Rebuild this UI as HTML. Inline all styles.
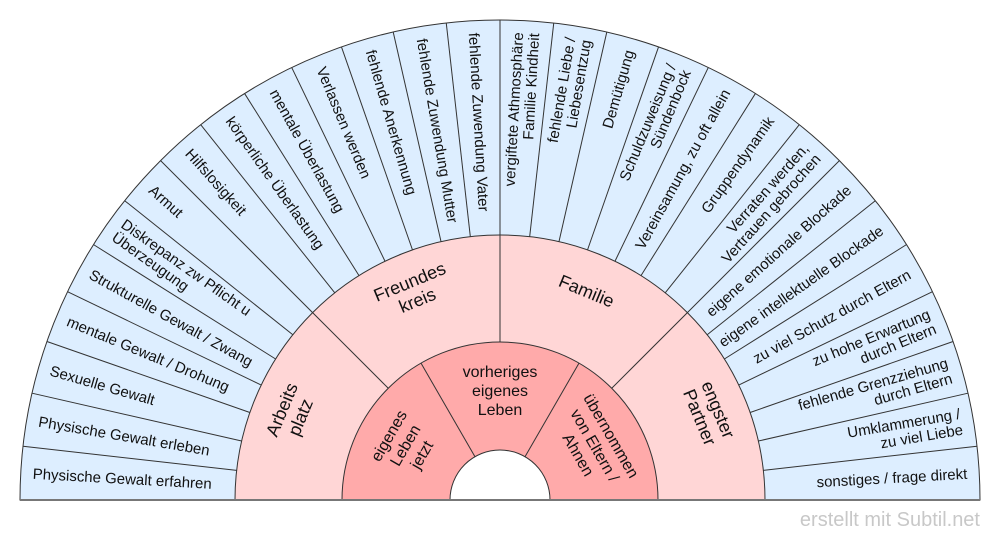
<!DOCTYPE html>
<html><head><meta charset="utf-8"><style>
html,body{margin:0;padding:0;background:#fff;}
svg{display:block;font-family:"Liberation Sans",Arial,sans-serif;}
</style></head><body>
<svg width="1000" height="540" viewBox="0 0 1000 540" xmlns="http://www.w3.org/2000/svg">
<g stroke="#333" stroke-width="1">
<path d="M20 500 A480 480 0 0 1 980 500 Z" fill="#ddeeff"/>
<g>
<line x1="20" y1="500" x2="235" y2="500" transform="rotate(6.42857 500 500)"/>
<line x1="20" y1="500" x2="235" y2="500" transform="rotate(12.85714 500 500)"/>
<line x1="20" y1="500" x2="235" y2="500" transform="rotate(19.28571 500 500)"/>
<line x1="20" y1="500" x2="235" y2="500" transform="rotate(25.71429 500 500)"/>
<line x1="20" y1="500" x2="235" y2="500" transform="rotate(32.14286 500 500)"/>
<line x1="20" y1="500" x2="235" y2="500" transform="rotate(38.57143 500 500)"/>
<line x1="20" y1="500" x2="235" y2="500" transform="rotate(45 500 500)"/>
<line x1="20" y1="500" x2="235" y2="500" transform="rotate(51.42857 500 500)"/>
<line x1="20" y1="500" x2="235" y2="500" transform="rotate(57.85714 500 500)"/>
<line x1="20" y1="500" x2="235" y2="500" transform="rotate(64.28571 500 500)"/>
<line x1="20" y1="500" x2="235" y2="500" transform="rotate(70.71429 500 500)"/>
<line x1="20" y1="500" x2="235" y2="500" transform="rotate(77.14286 500 500)"/>
<line x1="20" y1="500" x2="235" y2="500" transform="rotate(83.57143 500 500)"/>
<line x1="20" y1="500" x2="235" y2="500" transform="rotate(90 500 500)"/>
<line x1="20" y1="500" x2="235" y2="500" transform="rotate(96.42857 500 500)"/>
<line x1="20" y1="500" x2="235" y2="500" transform="rotate(102.85714 500 500)"/>
<line x1="20" y1="500" x2="235" y2="500" transform="rotate(109.28571 500 500)"/>
<line x1="20" y1="500" x2="235" y2="500" transform="rotate(115.71429 500 500)"/>
<line x1="20" y1="500" x2="235" y2="500" transform="rotate(122.14286 500 500)"/>
<line x1="20" y1="500" x2="235" y2="500" transform="rotate(128.57143 500 500)"/>
<line x1="20" y1="500" x2="235" y2="500" transform="rotate(135 500 500)"/>
<line x1="20" y1="500" x2="235" y2="500" transform="rotate(141.42857 500 500)"/>
<line x1="20" y1="500" x2="235" y2="500" transform="rotate(147.85714 500 500)"/>
<line x1="20" y1="500" x2="235" y2="500" transform="rotate(154.28571 500 500)"/>
<line x1="20" y1="500" x2="235" y2="500" transform="rotate(160.71429 500 500)"/>
<line x1="20" y1="500" x2="235" y2="500" transform="rotate(167.14286 500 500)"/>
<line x1="20" y1="500" x2="235" y2="500" transform="rotate(173.57143 500 500)"/>
</g>
<path d="M235 500 A265 265 0 0 1 765 500 Z" fill="#ffd6d6"/>
<line x1="235" y1="500" x2="342" y2="500" transform="rotate(45 500 500)"/>
<line x1="235" y1="500" x2="342" y2="500" transform="rotate(90 500 500)"/>
<line x1="235" y1="500" x2="342" y2="500" transform="rotate(135 500 500)"/>
<path d="M342 500 A158 158 0 0 1 658 500 Z" fill="#ffaaaa"/>
<line x1="342" y1="500" x2="450" y2="500" transform="rotate(60 500 500)"/>
<line x1="342" y1="500" x2="450" y2="500" transform="rotate(120 500 500)"/>
<path d="M450 500 A50 50 0 0 1 550 500 Z" fill="#fff"/>
</g>
<line x1="20" y1="500" x2="980" y2="500" stroke="#777" stroke-width="2"/>

<g font-size="15" fill="#111" text-anchor="start">
<text x="32" y="505" transform="rotate(3.214 500 500)">Physische Gewalt erfahren</text>
<text x="32" y="505" transform="rotate(9.643 500 500)">Physische Gewalt erleben</text>
<text x="32" y="505" transform="rotate(16.071 500 500)">Sexuelle Gewalt</text>
<text x="32" y="505" transform="rotate(22.5 500 500)">mentale Gewalt / Drohung</text>
<text x="32" y="505" transform="rotate(28.929 500 500)">Strukturelle Gewalt / Zwang</text>
<text x="32" y="497" transform="rotate(35.357 500 500)">Diskrepanz zw Pflicht u<tspan x="32" dy="16">Überzeugung</tspan></text>
<text x="32" y="505" transform="rotate(41.786 500 500)">Armut</text>
<text x="32" y="505" transform="rotate(48.214 500 500)">Hilfslosigkeit</text>
<text x="32" y="505" transform="rotate(54.643 500 500)">körperliche Überlastung</text>
<text x="32" y="505" transform="rotate(61.071 500 500)">mentale Überlastung</text>
<text x="32" y="505" transform="rotate(67.5 500 500)">Verlassen werden</text>
<text x="32" y="505" transform="rotate(73.929 500 500)">fehlende Anerkennung</text>
<text x="32" y="505" transform="rotate(80.357 500 500)">fehlende Zuwendung Mutter</text>
<text x="32" y="505" transform="rotate(86.786 500 500)">fehlende Zuwendung Vater</text>
</g>
<g font-size="15" fill="#111" text-anchor="end">
<text x="968" y="505" transform="rotate(-3.214 500 500)">sonstiges / frage direkt</text>
<text x="968" y="497" transform="rotate(-9.643 500 500)">Umklammerung /<tspan x="968" dy="16">zu viel Liebe</tspan></text>
<text x="968" y="497" transform="rotate(-16.071 500 500)">fehlende Grenzziehung<tspan x="968" dy="16">durch Eltern</tspan></text>
<text x="968" y="497" transform="rotate(-22.5 500 500)">zu hohe Erwartung<tspan x="968" dy="16">durch Eltern</tspan></text>
<text x="968" y="505" transform="rotate(-28.929 500 500)">zu viel Schutz durch Eltern</text>
<text x="968" y="505" transform="rotate(-35.357 500 500)">eigene intellektuelle Blockade</text>
<text x="968" y="505" transform="rotate(-41.786 500 500)">eigene emotionale Blockade</text>
<text x="968" y="497" transform="rotate(-48.214 500 500)">Verraten werden,<tspan x="968" dy="16">Vertrauen gebrochen</tspan></text>
<text x="968" y="505" transform="rotate(-54.643 500 500)">Gruppendynamik</text>
<text x="968" y="505" transform="rotate(-61.071 500 500)">Vereinsamung, zu oft allein</text>
<text x="968" y="497" transform="rotate(-67.5 500 500)">Schuldzuweisung /<tspan x="968" dy="16">Sündenbock</tspan></text>
<text x="968" y="505" transform="rotate(-73.929 500 500)">Demütigung</text>
<text x="968" y="497" transform="rotate(-80.357 500 500)">fehlende Liebe /<tspan x="968" dy="16">Liebesentzug</tspan></text>
<text x="968" y="497" transform="rotate(-86.786 500 500)">vergiftete Athmosphäre<tspan x="968" dy="16">Familie Kindheit</tspan></text>
</g>

<g font-size="18" fill="#111" text-anchor="middle">
<text x="500" y="270" transform="rotate(-67.5 500 500)">Arbeits<tspan x="500" dy="20">platz</tspan></text>
<text x="500" y="270" transform="rotate(-22.5 500 500)">Freundes<tspan x="500" dy="20">kreis</tspan></text>
<text x="500" y="280" transform="rotate(22.5 500 500)">Familie</text>
<text x="500" y="270" transform="rotate(67.5 500 500)">engster<tspan x="500" dy="20">Partner</tspan></text>
</g>
<g font-size="16" fill="#111" text-anchor="middle">
<text x="500" y="377">vorheriges<tspan x="500" dy="19">eigenes</tspan><tspan x="500" dy="19">Leben</tspan></text>
<text x="500" y="377" transform="rotate(-60 500 500)">eigenes<tspan x="500" dy="19">Leben</tspan><tspan x="500" dy="19">jetzt</tspan></text>
<text x="500" y="377" transform="rotate(60 500 500)">übernommen<tspan x="500" dy="19">von Eltern /</tspan><tspan x="500" dy="19">Ahnen</tspan></text>
</g>
<text x="980" y="526" font-size="20" fill="#c8c8c8" text-anchor="end">erstellt mit Subtil.net</text>
</svg>
</body></html>
